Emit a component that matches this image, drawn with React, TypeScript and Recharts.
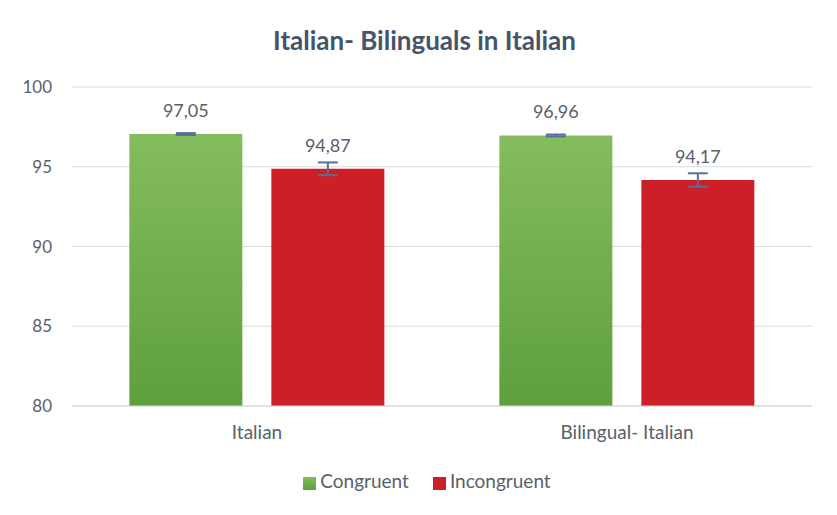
import { BarChart, Bar, XAxis, YAxis, CartesianGrid, Legend, ErrorBar, LabelList } from 'recharts';

const categories = ['Italian', 'Bilingual- Italian'];
const congruent = [97.05, 96.96];
const incongruent = [94.87, 94.17];
const congruentErr = [0.06, 0.06];
const incongruentErr = [0.4, 0.42];
const yTicks = [80, 85, 90, 95, 100];

const data = categories.map((name, i) => ({
  name,
  congruent: congruent[i],
  incongruent: incongruent[i],
  congruentErr: congruentErr[i],
  incongruentErr: incongruentErr[i],
}));

const FONT = 'Lato, "Open Sans", sans-serif';
const TEXT = '#595f6b';
const fmt = (v: any) => Number(v).toFixed(2).replace('.', ',');

export default function App() {
  return (
    <div style={{ position: 'relative', width: 837, height: 515, margin: -8, background: '#fff', fontFamily: FONT }}>
      <div
        style={{
          position: 'absolute',
          left: 4,
          top: 4,
          width: 828,
          height: 507,
          border: '1px solid #d9d9d9',
          boxSizing: 'border-box',
        }}
      />
      <div
        style={{
          position: 'absolute',
          top: 24,
          left: 6,
          width: '100%',
          textAlign: 'center',
          fontSize: 26,
          fontWeight: 700,
          color: '#44546a',
        }}
      >
        Italian- Bilinguals in Italian
      </div>
      <BarChart
        width={837}
        height={515}
        data={data}
        margin={{ top: 87, right: 25, bottom: 0, left: 0 }}
        barGap={29}
        barCategoryGap="15.5%"
      >
        <defs>
          <linearGradient id="greenGrad" x1="0" y1="0" x2="0" y2="1">
            <stop offset="0%" stopColor="#84bc5e" />
            <stop offset="100%" stopColor="#5e9f3e" />
          </linearGradient>
        </defs>
        <CartesianGrid vertical={false} stroke="#d9d9d9" />
        <XAxis
          dataKey="name"
          axisLine={{ stroke: '#d9d9d9' }}
          tickLine={false}
          tickSize={0}
          tickMargin={20}
          height={30}
          tick={{ fill: TEXT, fontSize: 19, fontFamily: FONT }}
        />
        <YAxis
          domain={[80, 100]}
          ticks={yTicks}
          axisLine={false}
          tickLine={false}
          tickSize={0}
          tickMargin={20}
          width={72}
          tick={{ fill: TEXT, fontSize: 17, fontFamily: FONT }}
        />
        <Legend
          verticalAlign="bottom"
          height={79}
          iconType="square"
          iconSize={13}
          wrapperStyle={{ top: 469, left: 33, fontSize: 19, fontFamily: FONT }}
          formatter={(value) => <span style={{ color: TEXT, marginRight: 14 }}>{value}</span>}
        />
        <Bar dataKey="congruent" name="Congruent" fill="url(#greenGrad)" isAnimationActive={false}>
          <ErrorBar dataKey="congruentErr" width={10} stroke="#5a6f94" strokeWidth={2} />
          <LabelList dataKey="congruent" position="top" offset={17} formatter={fmt} fill={TEXT} fontSize={18} fontFamily={FONT} />
        </Bar>
        <Bar dataKey="incongruent" name="Incongruent" fill="#cc1f27" isAnimationActive={false}>
          <ErrorBar dataKey="incongruentErr" width={10} stroke="#5a6f94" strokeWidth={2} />
          <LabelList dataKey="incongruent" position="top" offset={17} formatter={fmt} fill={TEXT} fontSize={18} fontFamily={FONT} />
        </Bar>
      </BarChart>
    </div>
  );
}
